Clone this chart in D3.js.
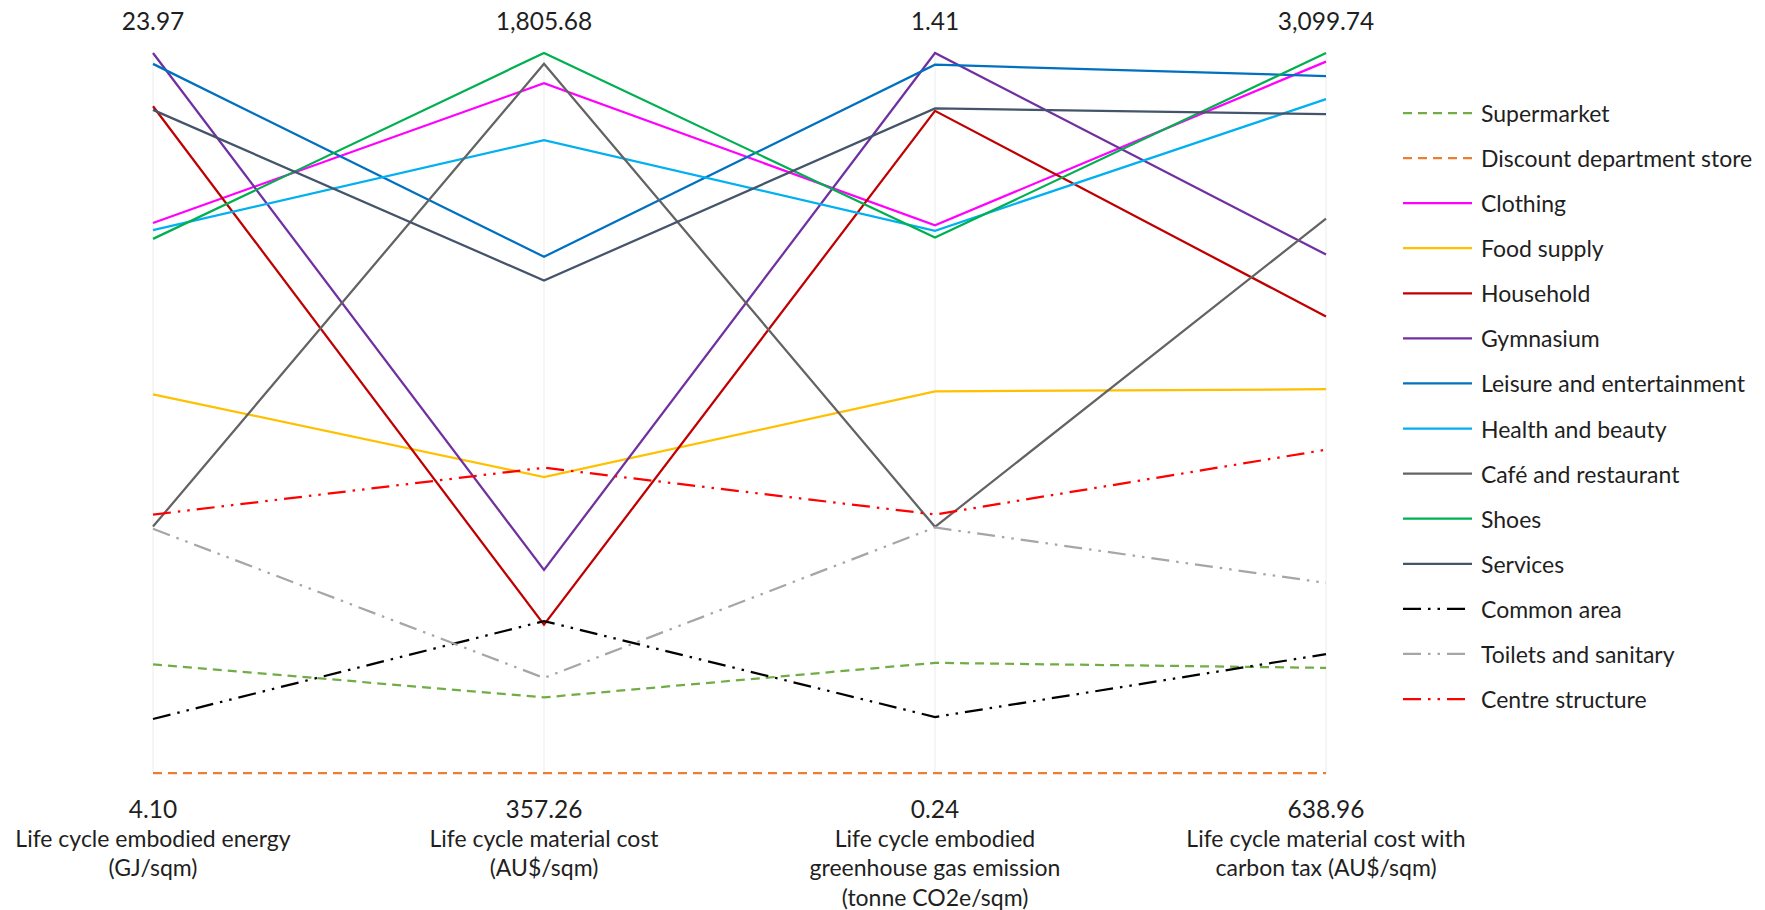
<!DOCTYPE html>
<html>
<head>
<meta charset="utf-8">
<script src="https://cdn.jsdelivr.net/npm/d3@7"></script>
<style>
  html, body { margin: 0; padding: 0; background: #ffffff; }
  svg { display: block; }
  text { font-family: Lato, "Open Sans", sans-serif; fill: #1f1f1f; }
</style>
</head>
<body>
<svg id="chart" width="1765" height="910"></svg>
<script>
// Axes of the parallel-coordinates plot (bottom label = min, top label = max)
const axisKeys = ["energy", "cost", "ghg", "costTax"];
const axisTitles = [
  ["Life cycle embodied energy", "(GJ/sqm)"],
  ["Life cycle material cost", "(AU$/sqm)"],
  ["Life cycle embodied", "greenhouse gas emission", "(tonne CO2e/sqm)"],
  ["Life cycle material cost with", "carbon tax (AU$/sqm)"]
];
const axisMin = [4.10, 357.26, 0.24, 638.96];
const axisMax = [23.97, 1805.68, 1.41, 3099.74];

// Shop categories
const categories = [
  "Supermarket", "Discount department store", "Clothing", "Food supply",
  "Household", "Gymnasium", "Leisure and entertainment", "Health and beauty",
  "Café and restaurant", "Shoes", "Services", "Common area",
  "Toilets and sanitary", "Centre structure"
];

// Values per category on each axis
const energy  = [7.10, 4.10, 19.28, 14.55, 22.50, 23.97, 23.67, 19.08, 10.90, 18.84, 22.40, 5.59, 10.84, 11.23];
const cost    = [509.4, 357.26, 1744.9, 952.6, 655.6, 765.7, 1395.8, 1630.4, 1784.0, 1805.68, 1348.0, 662.9, 548.5, 971.4];
const ghg     = [0.419, 0.24, 1.130, 0.860, 1.316, 1.41, 1.391, 1.121, 0.640, 1.110, 1.320, 0.331, 0.639, 0.660];
const costTax = [998.2, 638.96, 3070.2, 1950.6, 2199.1, 2410.7, 3021.0, 2942.3, 2533.7, 3099.74, 2890.6, 1045.0, 1288.6, 1743.9];

// Line colours and dash styles
const colors = [
  "#70ad47", "#ed7d31", "#ff00ff", "#ffc000", "#c00000", "#7030a0", "#0070c0",
  "#00b0f0", "#636363", "#00b050", "#44546a", "#000000", "#a6a6a6", "#ff0000"
];
const dashDot2 = "18,7,2.5,7,2.5,7";
const dashes = [
  "9,6", "9,6", null, null, null, null, null,
  null, null, null, null, dashDot2, dashDot2, dashDot2
];

const table = categories.map((name, i) => ({
  name,
  values: { energy: energy[i], cost: cost[i], ghg: ghg[i], costTax: costTax[i] },
  color: colors[i],
  dash: dashes[i]
}));

const svg = d3.select("#chart");
const fontSize = 23;
const numberSize = 24.5;

const x = d3.scalePoint().domain(axisKeys).range([153, 1326]);
const y = {};
axisKeys.forEach((k, i) => {
  y[k] = d3.scaleLinear().domain([axisMin[i], axisMax[i]]).range([773, 53]);
});

// Axis lines
svg.append("g").selectAll("line")
  .data(axisKeys)
  .join("line")
  .attr("x1", d => x(d)).attr("x2", d => x(d))
  .attr("y1", 53).attr("y2", 773)
  .attr("stroke", "#ececec").attr("stroke-width", 1);

// Top (max) labels
const fmt = d3.format(",.2f");
svg.append("g").selectAll("text")
  .data(axisKeys)
  .join("text")
  .attr("x", d => x(d)).attr("y", 20)
  .attr("text-anchor", "middle").attr("dominant-baseline", "central")
  .style("font-size", numberSize + "px")
  .text((d, i) => fmt(axisMax[i]));

// Bottom labels: min value and axis title
const bottom = svg.append("g").selectAll("text")
  .data(axisKeys)
  .join("text")
  .attr("text-anchor", "middle")
  .style("font-size", fontSize + "px");
bottom.each(function (d, i) {
  const t = d3.select(this);
  const lines = [fmt(axisMin[i])].concat(axisTitles[i]);
  lines.forEach((ln, j) => {
    t.append("tspan")
      .attr("x", x(d)).attr("y", 808 + j * 29.5)
      .attr("dominant-baseline", "central")
      .style("font-size", (j === 0 ? numberSize : fontSize) + "px")
      .text(ln);
  });
});

// Category polylines
const line = d3.line()
  .x(d => x(d.key))
  .y(d => y[d.key](d.value));

svg.append("g").selectAll("path")
  .data(table)
  .join("path")
  .attr("d", d => line(axisKeys.map(k => ({ key: k, value: d.values[k] }))))
  .attr("fill", "none")
  .attr("stroke", d => d.color)
  .attr("stroke-width", 2.25)
  .attr("stroke-dasharray", d => d.dash)
  .attr("stroke-linejoin", "miter");

// Legend
const legendY = d3.scalePoint().domain(categories).range([113, 699]);
const legend = svg.append("g").selectAll("g")
  .data(table)
  .join("g")
  .attr("transform", d => `translate(0,${legendY(d.name)})`);
legend.append("line")
  .attr("x1", 1403).attr("x2", 1472)
  .attr("stroke", d => d.color)
  .attr("stroke-width", 2.25)
  .attr("stroke-dasharray", d => d.dash);
legend.append("text")
  .attr("x", 1481).attr("y", 0)
  .attr("dominant-baseline", "central")
  .style("font-size", fontSize + "px")
  .text(d => d.name);
</script>
</body>
</html>
